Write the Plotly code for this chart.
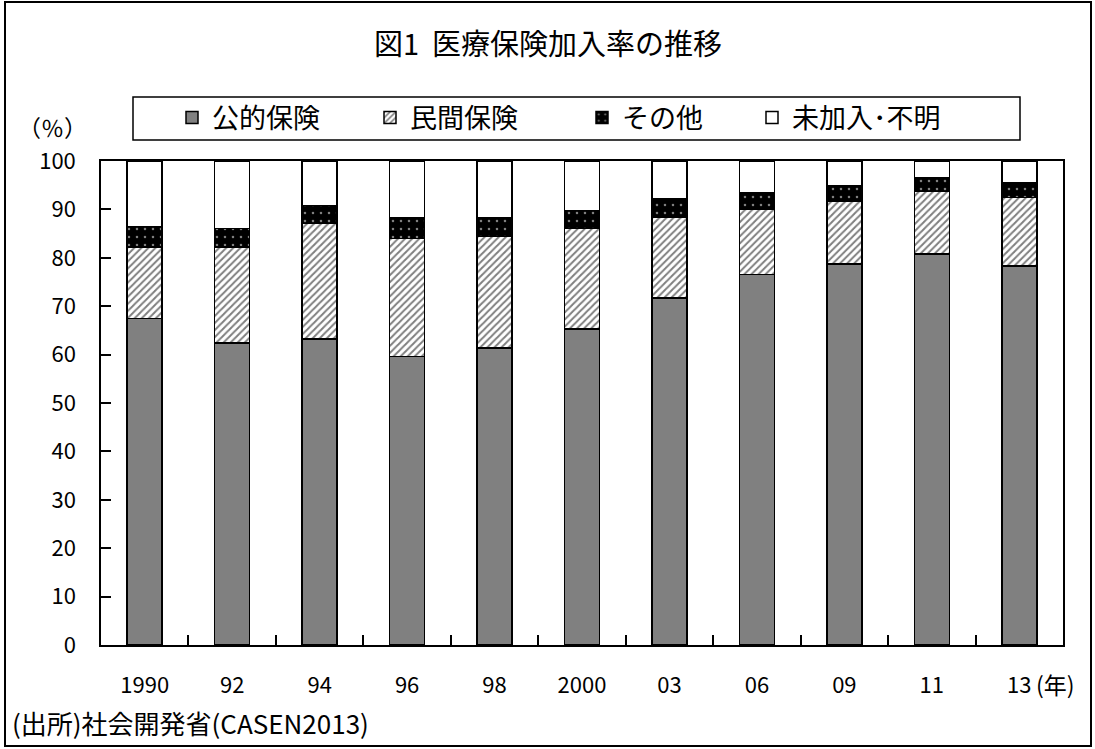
import plotly.graph_objects as go

# Survey years (category labels on the x axis)
years = ["1990", "92", "94", "96", "98", "2000", "03", "06", "09", "11", "13"]

# Share of population by health-insurance status (%)
public_ins = [67.5, 62.4, 63.2, 59.6, 61.4, 65.3, 71.7, 76.6, 78.7, 80.8, 78.3]
private_ins = [14.7, 19.8, 23.9, 24.4, 23.0, 20.8, 16.7, 13.4, 13.0, 12.9, 14.2]
other_ins = [4.3, 3.9, 3.7, 4.2, 3.8, 3.7, 3.7, 3.5, 3.2, 2.9, 3.1]
uninsured = [13.5, 13.9, 9.2, 11.8, 11.8, 10.2, 7.9, 6.5, 5.1, 3.4, 4.4]

series_names = ["公的保険", "民間保険", "その他", "未加入･不明"]

W, H = 1095, 749
ML, MR, MT, MB = 101, 32, 161, 104
PW, PH = W - ML - MR, H - MT - MB

FONT = "Noto Sans CJK JP"


def px_x(p):
    return (p - ML) / PW


def px_y(p):
    return (H - MB - p) / PH


outline = dict(color="black", width=1.5)

fig = go.Figure()
fig.add_bar(
    x=years, y=public_ins, name=series_names[0], legend="legend",
    marker=dict(color="#808080", line=outline),
)
fig.add_bar(
    x=years, y=private_ins, name=series_names[1], legend="legend2",
    marker=dict(
        color="white", line=outline,
        pattern=dict(shape="/", fgcolor="black", bgcolor="white",
                     size=5, solidity=0.4),
    ),
)
fig.add_bar(
    x=years, y=other_ins, name=series_names[2], legend="legend3",
    marker=dict(
        color="black", line=outline,
        pattern=dict(shape=".", fgcolor="white", bgcolor="black",
                     size=8, solidity=0.08),
    ),
)
fig.add_bar(
    x=years, y=uninsured, name=series_names[3], legend="legend4",
    marker=dict(color="white", line=outline),
)

shapes = [
    # outer frame of the figure
    dict(type="rect", xref="paper", yref="paper",
         x0=px_x(5), x1=px_x(1091), y0=px_y(746), y1=px_y(2),
         line=dict(color="black", width=2), fillcolor="rgba(0,0,0,0)"),
    # legend frame
    dict(type="rect", xref="paper", yref="paper",
         x0=px_x(133), x1=px_x(1020), y0=px_y(140), y1=px_y(97),
         line=dict(color="black", width=1.5), fillcolor="rgba(0,0,0,0)"),
]

annotations = [
    dict(text="図1  医療保険加入率の推移", xref="paper", yref="paper",
         x=px_x(548), y=px_y(42), xanchor="center", yanchor="middle",
         showarrow=False, font=dict(size=29, color="black", family=FONT)),
    dict(text="（％）", xref="paper", yref="paper",
         x=px_x(52), y=px_y(127), xanchor="center", yanchor="middle",
         showarrow=False, font=dict(size=23, color="black", family=FONT)),
    dict(text="(年)", xref="paper", yref="paper",
         x=px_x(1034), y=px_y(684), xanchor="left", yanchor="middle",
         showarrow=False, font=dict(size=23, color="black", family=FONT)),
    dict(text="(出所)社会開発省(CASEN2013)", xref="paper", yref="paper",
         x=px_x(10), y=px_y(722), xanchor="left", yanchor="middle",
         showarrow=False, font=dict(size=26, color="black", family=FONT)),
]


def legend_at(text_start_px):
    # one single-entry legend per series, placed along the legend frame
    return dict(
        orientation="h",
        x=px_x(text_start_px - 38), y=px_y(118),
        xanchor="left", yanchor="middle",
        bgcolor="rgba(0,0,0,0)", borderwidth=0,
        font=dict(size=27, family=FONT, color="black"),
    )


fig.update_layout(
    width=W, height=H,
    margin=dict(l=ML, r=MR, t=MT, b=MB),
    paper_bgcolor="white", plot_bgcolor="white",
    barmode="stack", bargap=0.6,
    font=dict(family=FONT, color="black", size=20),
    showlegend=True,
    legend=legend_at(210),
    legend2=legend_at(408),
    legend3=legend_at(620),
    legend4=legend_at(790),
    shapes=shapes,
    annotations=annotations,
)

fig.update_xaxes(
    type="category", showline=True, linecolor="black", linewidth=1.5,
    mirror=True, ticks="inside", tickson="boundaries", ticklen=10,
    tickcolor="black", tickwidth=1.5, showgrid=False,
    ticklabelstandoff=20, tickfont=dict(size=22, family=FONT),
)
fig.update_yaxes(
    range=[0, 100], dtick=10, showline=True, linecolor="black",
    linewidth=1.5, mirror=True, ticks="inside", ticklen=10,
    tickcolor="black", tickwidth=1.5, showgrid=False, zeroline=False,
    ticklabelstandoff=19, tickfont=dict(size=22, family=FONT),
)

fig.write_html("out.html")
